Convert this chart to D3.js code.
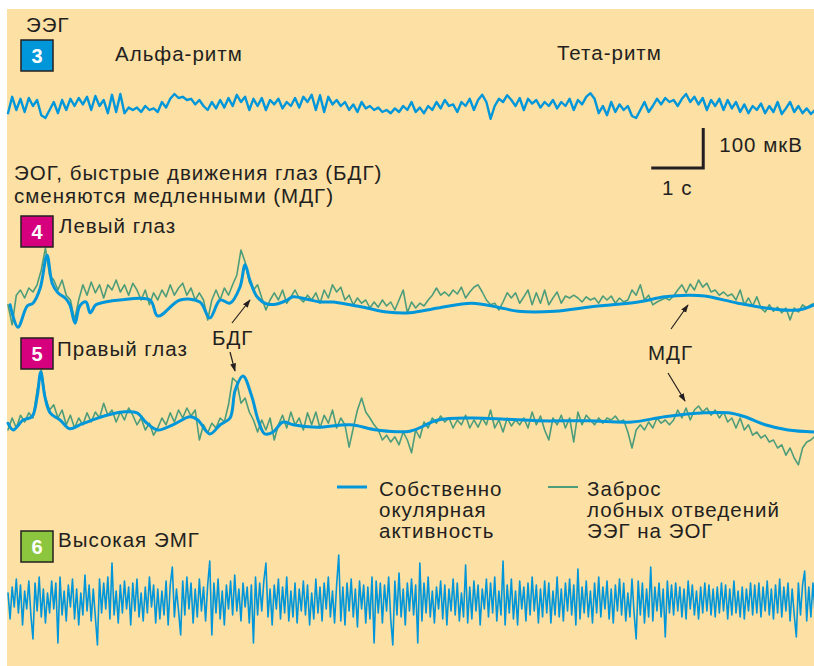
<!DOCTYPE html>
<html>
<head>
<meta charset="utf-8">
<script src="https://cdn.jsdelivr.net/npm/d3@7"></script>
<style>
  html, body { margin: 0; padding: 0; background: #fff; }
  svg text { font-family: "Liberation Sans", Arial, sans-serif; fill: #231f20; }
</style>
</head>
<body>
<div id="chart"></div>
<script>
// time in seconds, amplitude in µV (up = positive)

// --- 3: EEG, sampled every 0.08 s
const eegDt = 0.08;
const eeg = [
  -18, 23, -10, 18, -15, 20, 0, 15, -23, -30,
  -10, 10, -18, 15, -10, 18, 0, 20, 4, 23,
  -10, 25, 0, 15, -18, 28, -15, 30, -18, -4,
  -10, -4, -15, 0, -10, -6, -15, 10, -4, 18,
  30, 20, 23, 15, 18, 4, 15, 0, -10, 10,
  -6, 15, -4, 20, 0, 28, 10, 23, -10, 18,
  0, 20, -10, 15, 4, 18, -6, 10, 0, 20,
  -4, 23, 10, 28, -10, 27, -15, 23, 4, 15,
  0, 10, -10, 4, -15, 10, -6, 0, -10, -4,
  -15, -10, -18, -6, -15, 0, -10, 10, -15, -4,
  -18, 0, -10, 10, -6, 15, 0, 4, -15, 10,
  0, 18, -10, 15, 28, 10, -32, 0, 18, 10,
  27, 15, 0, 20, -10, 18, 6, 15, -4, 10,
  0, 15, -6, 10, 0, 18, -10, 15, 4, 23,
  32, 18, -18, 0, -23, 10, -15, 4, -10, 0,
  -25, -30, -10, 10, -15, 0, 18, 4, 20, 10,
  15, 0, 18, 30, 10, 23, 4, 20, -10, 15,
  0, 18, -10, 15, -6, 10, -15, 4, -18, 0,
  -10, 6, -18, 0, -15, 10, -20, -6, 10, -15,
  0, -18, -6, -20, -10
];

// --- 4: left eye (EOG)
// smooth ocular activity, key points
const leftOcT = [0.04, 0.19, 0.37, 0.48, 0.62, 0.75, 0.85, 0.96, 1.10, 1.19, 1.29, 1.38, 1.50, 1.58, 1.69, 1.87,
  2.15, 2.73, 2.88, 3.31, 3.69, 3.88, 4.08, 4.27, 4.46, 4.56, 4.65, 4.79, 4.98, 5.17, 5.37, 5.48, 5.75,
  6.00, 6.25, 6.58, 6.90, 7.29, 7.73, 8.27, 8.92, 9.42, 9.81, 10.52, 11.15, 12.12, 12.63, 13.08, 13.40,
  14.04, 14.69, 15.19, 15.50];
const leftOcV = [-12, -68, -15, -8, 30, 112, 42, 18, 5, -12, -58, -15, -5, -32, -12, -5,
  0, 0, -40, 0, -5, -45, 0, -8, 32, 88, 50, 8, -10, -10, 0, 8, 2,
  -5, -5, -12, -20, -30, -32, -20, -8, -18, -28, -28, -18, -5, 8, 12, 10,
  -8, -22, -25, -12];
// frontal EEG spill-over on the EOG channel, sampled every 0.08 s
const spillDt = 0.08;
const leftSpill = [
  -12, -62, 12, 25, 5, 30, 20, 38, 75, 130,
  62, 50, 25, 50, 12, 0, -50, 0, 38, 12,
  45, 18, 38, 5, 38, 25, 50, 20, 38, 12,
  42, 25, 0, 25, -12, 18, 0, 25, 8, 38,
  12, 30, 42, 12, 30, 0, 18, 0, -50, 0,
  25, 0, 30, 12, 38, 62, 125, 95, 45, 25,
  38, 5, -25, 0, 18, 0, 25, -8, 8, 25,
  5, -5, 12, 0, 18, -8, 25, 5, 38, 20,
  32, 0, 12, -12, 5, -8, 0, -20, -5, -18,
  0, -15, -5, -25, 0, 25, -32, -5, -20, -8,
  -15, 0, 12, 30, 12, 20, 10, 25, 15, 32,
  5, 20, 32, 38, 20, 0, -12, -8, -25, -5,
  18, 5, 18, -8, 8, 25, -12, 18, -8, 25,
  -12, 5, 20, -8, 10, 5, 12, 5, -5, 8,
  0, 5, -8, 10, 0, 10, -8, 5, -5, 0,
  25, 12, 38, 0, 12, -12, -5, 0, 5, 0,
  10, 25, 38, 18, 40, 25, 50, 32, 42, 20,
  25, 12, 20, 10, 15, 0, 25, -12, 5, -15,
  8, -20, -30, -12, -28, -18, -32, -20, -50, -20,
  -30, -12, -20, -12, -8
];

// --- 5: right eye (EOG)
const rightOcT = [0.00, 0.10, 0.29, 0.46, 0.56, 0.63, 0.71, 0.81, 1.00, 1.19, 1.38, 1.58, 1.90, 2.21, 2.48,
  2.67, 2.88, 3.17, 3.50, 3.65, 3.88, 4.08, 4.27, 4.37, 4.52, 4.69, 4.81, 4.94, 5.10, 5.29, 5.48, 5.94,
  6.58, 7.10, 7.73, 8.27, 8.92, 9.56, 10.19, 11.15, 12.00, 12.63, 13.40, 13.85, 14.17, 14.56, 15.00, 15.50];
const rightOcV = [-8, -25, 0, 8, 58, 120, 58, 18, 0, -22, -12, -2, 12, 20, 18,
  -8, -25, -12, 8, 0, -35, -12, 5, 75, 110, 58, 0, -35, -30, -5, -12, -18,
  -12, -25, -28, 0, 5, 2, -2, -2, -5, 8, 18, 18, 8, -12, -25, -30];
const rightSpill = [
  -25, 5, -20, 12, -5, 18, 5, 75, 125, 55,
  25, 38, 5, 25, -12, 12, -20, 5, -12, 18,
  -5, 20, 5, 42, 12, 25, -5, 20, 0, 30,
  12, -12, 5, -25, -8, -38, -20, 5, -12, 18,
  -5, 25, 5, 30, 10, 25, -50, -12, -32, -8,
  -20, 5, -5, 38, 105, 95, 42, 55, 20, 0,
  -30, 0, -25, 5, -50, -12, 12, -20, 20, -12,
  5, -25, 18, -12, 20, -20, 12, -8, 25, -20,
  5, -12, -68, -20, 25, 55, 20, 5, -12, -25,
  -50, -38, -55, -42, -62, -30, -50, -82, -25, -45,
  -5, -20, 5, -8, 10, -5, 5, -20, 0, -12,
  12, -20, 0, -18, 5, -12, 25, -20, 0, -30,
  5, -15, 0, -12, 5, -20, 20, -12, 10, -25,
  -50, 5, -12, 12, -20, 5, -55, 20, -12, 12,
  0, -12, 5, -8, 5, 0, 10, -5, 0, -30,
  -70, -25, -12, -25, -5, -20, 5, -8, 0, -12,
  0, 25, 5, 30, 0, 25, 35, 20, 30, 12,
  25, 5, 20, -5, 5, -20, 5, -25, -12, -38,
  -30, -45, -38, -55, -50, -70, -62, -88, -70, -95,
  -112, -70, -55, -50, -40
];

// --- 6: high EMG, sampled every 0.04 s
const emgDt = 0.04;
const emg = [
  20, -45, 35, -15, 55, -30, 40, -60, 25, -20, 50, -35, -95, 45, -25, 60, -40, 30, -55, 20,
  -30, 50, -20, 45, -105, 60, -35, 25, -50, 40, -15, 55, -45, 30, -60, 20, -35, 65, -25, 40,
  -50, 30, -40, -110, 55, -30, 45, -20, 60, -45, 95, -35, 25, -55, 40, -30, 50, -20, 35, -60,
  45, -25, 55, -40, 20, -50, 35, -30, 60, -15, 40, -55, 30, -45, 25, -35, 50, -60, 40, 85,
  -40, 30, -25, -85, 50, -35, 60, -20, 45, -55, 30, -40, 55, -25, 35, -50, 40, 100, -85, 45,
  -30, 55, -45, 25, -60, 40, -20, 50, -35, 65, -25, 30, -50, 45, -15, 35, -55, 40, -105, 60,
  -35, 45, -25, 50, 95, -40, 30, -60, 40, -20, 55, -45, 35, -30, 60, -50, 25, -40, 45, -55,
  30, -25, 50, -35, 40, -60, 20, -45, 55, -30, 35, -50, 45, -20, 60, -40, 25, -55, 40, 115,
  -50, 35, -60, 45, -25, 55, -40, 30, -65, 50, -20, 40, -55, 35, -45, 60, -105, 50, -30, 45,
  -55, 40, -25, 60, -45, -110, 50, -35, 70, -40, 30, -60, 45, -25, 55, -35, 40, -105, 95, -50,
  45, -30, 60, -40, 25, -55, 35, -20, 50, -45, 40, -60, 30, -25, 55, -35, 45, -50, 20, -40,
  90, -55, 35, -45, 50, -25, 40, -60, 30, -20, 55, -40, 45, -30, 60, -50, 25, -35, 100, -60,
  40, -30, 55, -45, 25, -60, 50, -20, 35, -50, 45, -35, 60, -25, 40, -55, 30, -40, 50, -30,
  45, -55, 25, -35, 60, -40, 30, -50, 45, -25, 55, -35, 40, -60, 80, -45, 35, -30, 50, -40,
  25, -55, 45, -30, 60, -40, 35, -20, 50, -45, 30, -55, 40, -25, 55, -35, 45, -50, 20, -40,
  55, -30, -95, 50, -35, 45, -55, 30, -40, 85, -50, 35, -25, 45, -40, 30, -90, 50, -30, 40,
  -35, 45, -25, 35, -40, 30, -45, 50, -20, 40, -35, 25, -45, 35, -30, 45, -25, 40, -35, 30,
  -40, 35, -30, 45, -25, 40, -45, 30, -35, 50, -30, 25, -40, 35, -45, 30, -25, 45, -35, 40,
  -30, 45, -40, 35, -25, 50, -35, 30, -45, 40, -30, 55, -40, 35, -25, 45, -50, 30, -35, -90,
  45, -35, 40, 75, -50, 35, -40, 45, -30
];

const legendLabels = [
  ["Собственно", "окулярная", "активность"],
  ["Заброс", "лобных отведений", "ЭЭГ на ЭОГ"]
];

// layout
const W = 814, H = 666;
const BLUE = "#0096da", GREEN = "#4d9d7a", INK = "#231f20";

const svg = d3.select("#chart").append("svg")
  .attr("width", W)
  .attr("height", H);

svg.append("rect")
  .attr("x", 7).attr("y", 9)
  .attr("width", W - 7).attr("height", H - 9)
  .attr("fill", "#fde0a4");

// 1 s = 52 px, 100 µV = 40 px
const x = d3.scaleLinear().domain([0, 15.5]).range([8, 814]);
const amp = base => d3.scaleLinear().domain([-100, 100]).range([base + 40, base - 40]);

const yEeg = amp(106), yLeft = amp(300), yRight = amp(420), yEmg = amp(601);

function uniform(values, dt) {
  return values.map((v, i) => [i * dt, v]);
}

function trace(points, y, color, width, curve) {
  const line = d3.line()
    .x(d => x(d[0]))
    .y(d => y(d[1]))
    .curve(curve || d3.curveLinear);
  svg.append("path")
    .attr("d", line(points))
    .attr("fill", "none")
    .attr("stroke", color)
    .attr("stroke-width", width)
    .attr("stroke-linejoin", "round")
    .attr("stroke-linecap", "round");
}

// traces
trace(uniform(eeg, eegDt), yEeg, BLUE, 2.4);
trace(uniform(leftSpill, spillDt), yLeft, GREEN, 1.6);
trace(d3.zip(leftOcT, leftOcV), yLeft, BLUE, 3, d3.curveCatmullRom.alpha(0.5));
trace(uniform(rightSpill, spillDt), yRight, GREEN, 1.6);
trace(d3.zip(rightOcT, rightOcV), yRight, BLUE, 3, d3.curveCatmullRom.alpha(0.5));
trace(uniform(emg, emgDt), yEmg, BLUE, 1.6);

// badges
function badge(num, top, fill) {
  svg.append("rect")
    .attr("x", 21).attr("y", top)
    .attr("width", 32).attr("height", 31)
    .attr("fill", fill)
    .attr("stroke", INK)
    .attr("stroke-width", 1.5);
  svg.append("text")
    .attr("x", 37).attr("y", top + 23)
    .attr("text-anchor", "middle")
    .attr("font-size", 20)
    .attr("font-weight", "bold")
    .style("fill", "#fff")
    .text(num);
}
badge("3", 40, "#0096da");
badge("4", 216, "#d6007e");
badge("5", 338, "#d6007e");
badge("6", 531, "#8cc63e");

function label(tx, ty, str, anchor) {
  svg.append("text")
    .attr("x", tx).attr("y", ty)
    .attr("font-size", 20.5)
    .attr("letter-spacing", 1)
    .attr("text-anchor", anchor || "start")
    .text(str);
}
label(26, 32, "ЭЭГ");
label(115, 61, "Альфа-ритм");
label(557, 60, "Тета-ритм");
label(14, 180, "ЭОГ, быстрые движения глаз (БДГ)");
label(14, 203, "сменяются медленными (МДГ)");
label(59, 233, "Левый глаз");
label(57, 356, "Правый глаз");
label(58, 547, "Высокая ЭМГ");
label(212, 345, "БДГ");
label(648, 360, "МДГ");

// scale bar: 1 s by 100 µV
const sbT = 12.37, sbY = 168;
const sbV = d3.scaleLinear().domain([0, 100]).range([sbY, sbY - 40]);
svg.append("path")
  .attr("d", `M${x(sbT)},${sbY}H${x(sbT + 1)}V${sbV(100)}`)
  .attr("fill", "none")
  .attr("stroke", INK)
  .attr("stroke-width", 3);
label(x(sbT + 1) + 16, 152, "100 мкВ");
label(x(sbT + 0.5), 195, "1 с", "middle");

// arrows
svg.append("defs").append("marker")
  .attr("id", "head")
  .attr("viewBox", "0 0 10 10")
  .attr("refX", 9).attr("refY", 5)
  .attr("markerWidth", 7).attr("markerHeight", 7)
  .attr("orient", "auto")
  .append("path")
  .attr("d", "M0,1.5L10,5L0,8.5z")
  .attr("fill", INK);

function arrow(x1, y1, x2, y2) {
  svg.append("line")
    .attr("x1", x1).attr("y1", y1)
    .attr("x2", x2).attr("y2", y2)
    .attr("stroke", INK)
    .attr("stroke-width", 1.2)
    .attr("marker-end", "url(#head)");
}
arrow(232, 323, 250, 300);
arrow(230, 352, 235, 371);
arrow(671, 329, 688, 305);
arrow(668, 373, 685, 401);

// legend
const legend = [BLUE, GREEN];
legend.forEach((c, i) => {
  const lx = i === 0 ? 337 : 548;
  svg.append("line")
    .attr("x1", lx).attr("x2", lx + 30)
    .attr("y1", 487).attr("y2", 487)
    .attr("stroke", c)
    .attr("stroke-width", i === 0 ? 3 : 2);
  legendLabels[i].forEach((s, j) => label(lx + (i === 0 ? 42 : 39), 496 + j * 21, s));
});
</script>
</body>
</html>
